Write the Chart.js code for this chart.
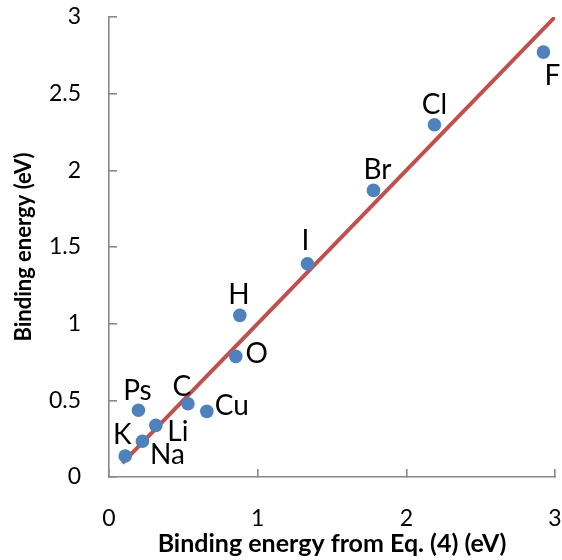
<!DOCTYPE html>
<html>
<head>
<meta charset="utf-8">
<script src="https://cdn.jsdelivr.net/npm/chart.js@4"></script>
<style>
  html, body { margin: 0; padding: 0; background: #ffffff; }
  #wrap { width: 562px; height: 560px; }
</style>
</head>
<body>
<div id="wrap"><canvas id="c" width="562" height="560"></canvas></div>
<script>
// ---- data ----
const elements = ['K', 'Na', 'Li', 'Ps', 'C', 'Cu', 'O', 'H', 'I', 'Br', 'Cl', 'F'];
const eqValues = [0.109, 0.225, 0.315, 0.198, 0.531, 0.658, 0.853, 0.880, 1.335, 1.779, 2.189, 2.922];
const bindingValues = [0.137, 0.233, 0.337, 0.435, 0.478, 0.428, 0.787, 1.054, 1.391, 1.869, 2.297, 2.771];
const lineX = [0.09, 3];
const lineY = [0.09, 3];
const xTickLabels = ['0', '1', '2', '3'];
const yTickLabels = ['0', '0.5', '1', '1.5', '2', '2.5', '3'];
const xTitle = 'Binding energy from Eq. (4) (eV)';
const yTitle = 'Binding energy (eV)';

// ---- label placement (offset of label centre from its point, px) ----
const labelOffsets = {
  K: [-3, -22], Na: [25, 13], Li: [22, 6], Ps: [-1, -20], C: [-6, -18], Cu: [25, -6],
  O: [21, -3], H: [-1, -21], I: [-2, -24], Br: [4, -22], Cl: [0, -21], F: [9, 23]
};

const FONT = 'Lato, "Open Sans", "DejaVu Sans", sans-serif';
const AXIS_COLOR = '#898989';

const pointLabelPlugin = {
  id: 'pointLabels',
  afterDatasetsDraw(chart) {
    const meta = chart.getDatasetMeta(1);
    const ctx = chart.ctx;
    const size = 28;
    const capH = size * 0.72;
    ctx.save();
    ctx.font = size + 'px ' + FONT;
    ctx.fillStyle = '#000000';
    ctx.textAlign = 'center';
    ctx.textBaseline = 'alphabetic';
    meta.data.forEach((pt, i) => {
      const name = elements[i];
      const off = labelOffsets[name] || [0, -20];
      ctx.fillText(name, pt.x + off[0], pt.y + off[1] + capH / 2);
    });
    ctx.restore();
  }
};

function clearPad(scale) {
  scale.paddingTop = 0; scale.paddingBottom = 0;
  scale.paddingLeft = 0; scale.paddingRight = 0;
}

const points = eqValues.map((x, i) => ({ x: x, y: bindingValues[i] }));
const linePts = lineX.map((x, i) => ({ x: x, y: lineY[i] }));

new Chart(document.getElementById('c'), {
  type: 'scatter',
  data: {
    datasets: [
      {
        label: 'y = x',
        type: 'line',
        data: linePts,
        borderColor: '#C0504D',
        borderWidth: 4,
        pointRadius: 0,
        fill: false,
        order: 2
      },
      {
        label: 'Binding energy',
        data: points,
        backgroundColor: '#4F81BD',
        borderColor: '#4F81BD',
        borderWidth: 0,
        pointRadius: 6.8,
        order: 1
      }
    ]
  },
  options: {
    responsive: false,
    animation: false,
    events: [],
    layout: { padding: { left: 0, right: 7, top: 17, bottom: 0 } },
    plugins: { legend: { display: false }, tooltip: { enabled: false } },
    scales: {
      x: {
        type: 'linear',
        min: 0, max: 3,
        afterFit(scale) { scale.height = 83; clearPad(scale); },
        border: { display: true, color: AXIS_COLOR, width: 1.6 },
        grid: { drawOnChartArea: false, drawTicks: true, tickLength: -8, color: AXIS_COLOR, lineWidth: 1.6 },
        ticks: {
          stepSize: 1,
          padding: 36,
          color: '#000000',
          font: { family: FONT, size: 23 },
          maxRotation: 0,
          callback: (v, i) => xTickLabels[i]
        },
        title: {
          display: true,
          text: xTitle,
          color: '#000000',
          font: { family: FONT, size: 25, weight: 'bold' },
          padding: { top: 0, bottom: 1 }
        }
      },
      y: {
        type: 'linear',
        min: 0, max: 3,
        afterFit(scale) { scale.width = 109; clearPad(scale); },
        border: { display: true, color: AXIS_COLOR, width: 1.6 },
        grid: { drawOnChartArea: false, drawTicks: true, tickLength: -8, color: AXIS_COLOR, lineWidth: 1.6 },
        ticks: {
          stepSize: 0.5,
          padding: 36,
          color: '#000000',
          font: { family: FONT, size: 23 },
          callback: (v, i) => yTickLabels[i]
        },
        title: {
          display: true,
          text: yTitle,
          color: '#000000',
          font: { family: FONT, size: 22, weight: 'bold' },
          padding: { top: 11, bottom: 0 }
        }
      }
    }
  },
  plugins: [pointLabelPlugin]
});
</script>
</body>
</html>
